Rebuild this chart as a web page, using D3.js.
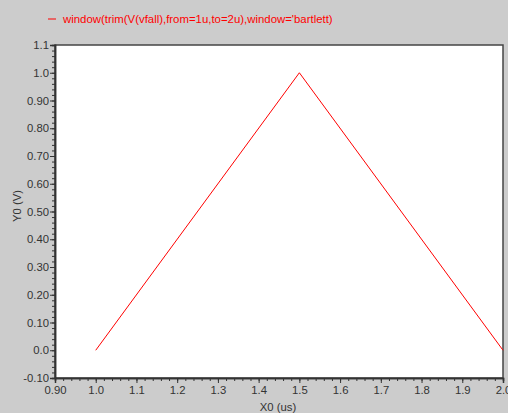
<!DOCTYPE html>
<html><head><meta charset="utf-8">
<script src="https://cdn.jsdelivr.net/npm/d3@7"></script>
<style>body{margin:0;background:#cccccc;}svg{display:block;}</style>
</head><body>
<script>
const seriesName = "window(trim(V(vfall),from=1u,to=2u),window='bartlett)";
const xValues = [1.0, 1.5, 2.0];
const yValues = [0.0, 1.0, 0.0];
const xTicks = [0.9, 1.0, 1.1, 1.2, 1.3, 1.4, 1.5, 1.6, 1.7, 1.8, 1.9, 2.0];
const xTickLabels = ["0.90","1.0","1.1","1.2","1.3","1.4","1.5","1.6","1.7","1.8","1.9","2.0"];
const yTicks = [1.1, 1.0, 0.9, 0.8, 0.7, 0.6, 0.5, 0.4, 0.3, 0.2, 0.1, 0.0, -0.1];
const yTickLabels = ["1.1","1.0","0.90","0.80","0.70","0.60","0.50","0.40","0.30","0.20","0.10","0.0","-0.10"];
const xLabel = "X0 (us)", yLabel = "Y0 (V)";

const W = 508, H = 413;
const L = 55, R = 503, T = 45, B = 378;
const svg = d3.select("body").append("svg").attr("width", W).attr("height", H)
  .style("font-family", "Arial, 'Liberation Sans', sans-serif");
svg.append("rect").attr("width", W).attr("height", H).attr("fill", "#cccccc");

const x = d3.scaleLinear().domain([0.9, 2.0]).range([L, R]);
const y = d3.scaleLinear().domain([-0.1, 1.1]).range([B, T]);

svg.append("rect").attr("x", L).attr("y", T).attr("width", R - L).attr("height", B - T)
  .attr("fill", "#ffffff").attr("stroke", "#444").attr("stroke-width", 1.5);

const xMinor = d3.range(0, 56).map(i => 0.9 + i * 0.02).filter(v => v <= 2.0001);
const yMinor = d3.range(0, 61).map(i => -0.1 + i * 0.02);

const xAxisMinor = d3.axisBottom(x).tickValues(xMinor).tickSize(3).tickFormat("");
const yAxisMinor = d3.axisLeft(y).tickValues(yMinor).tickSize(3).tickFormat("");
const xAxis = d3.axisBottom(x).tickValues(xTicks).tickSize(5).tickPadding(3)
  .tickFormat((d, i) => xTickLabels[i]);
const yAxis = d3.axisLeft(y).tickValues(yTicks).tickSize(5).tickPadding(1)
  .tickFormat((d, i) => yTickLabels[i]);

function style(g) {
  g.select(".domain").attr("stroke", "#333").attr("stroke-width", 1.5);
  g.selectAll(".tick line").attr("stroke", "#333");
  g.selectAll(".tick text").attr("fill", "#333").style("font-size", "11.3px");
}
svg.append("g").attr("transform", `translate(0,${B})`).call(xAxisMinor).call(style);
svg.append("g").attr("transform", `translate(${L},0)`).call(yAxisMinor).call(style);
svg.append("g").attr("transform", `translate(0,${B})`).call(xAxis).call(style);
svg.append("g").attr("transform", `translate(${L},0)`).call(yAxis).call(style);

const pts = xValues.map((v, i) => [v, yValues[i]]);
svg.append("path").datum(pts)
  .attr("d", d3.line().x(d => x(d[0])).y(d => y(d[1])))
  .attr("fill", "none").attr("stroke", "#ff0000").attr("stroke-width", 1);

svg.append("text").attr("x", 278).attr("y", 411).attr("text-anchor", "middle")
  .style("font-size", "11.3px").attr("fill", "#333").text(xLabel);
svg.append("text").attr("transform", "translate(21,206) rotate(-90)").attr("text-anchor", "middle")
  .style("font-size", "11.3px").attr("fill", "#333").text(yLabel);

svg.append("line").attr("x1", 48).attr("x2", 56).attr("y1", 19).attr("y2", 19)
  .attr("stroke", "#ff0000").attr("stroke-width", 1);
svg.append("text").attr("x", 63).attr("y", 23).style("font-size", "11.4px")
  .attr("fill", "#ff0000").text(seriesName);
</script>
</body></html>
